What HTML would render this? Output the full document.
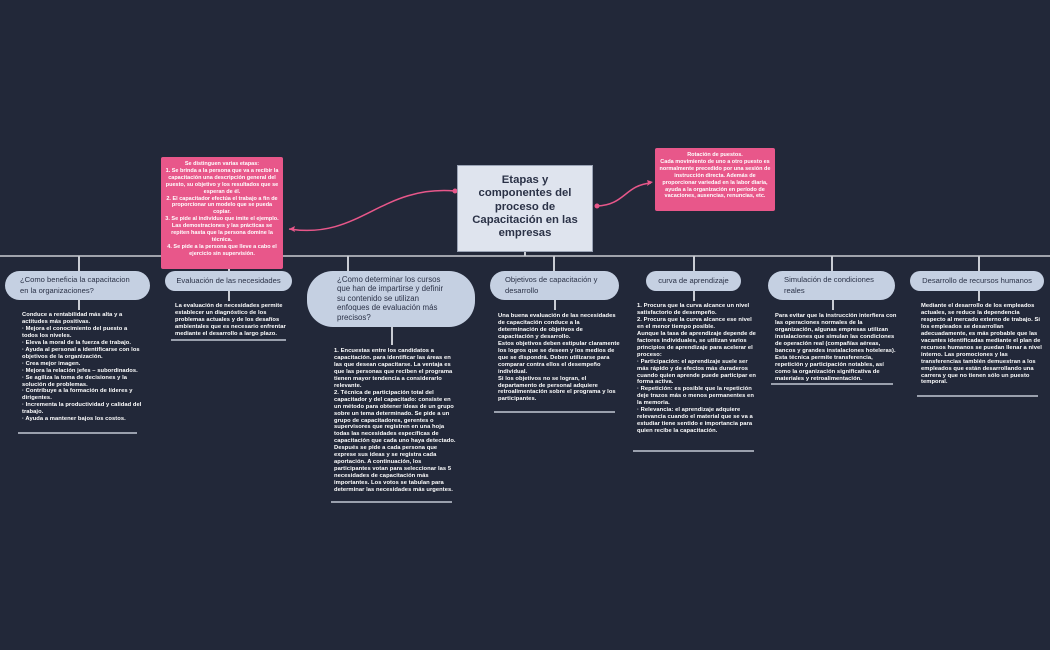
<!DOCTYPE html>
<html><head><meta charset="utf-8"><style>
body{margin:0;width:1050px;height:650px;background:#222839;position:relative;overflow:hidden;font-family:"Liberation Sans",sans-serif}
.p{position:absolute;background:#c5d0e2;color:#2b3247;border-radius:16px;font-size:7.6px;line-height:10.5px;box-sizing:border-box;padding:4px 12px}
.n{white-space:nowrap;text-align:center;padding:5px 4px}
.t{position:absolute;color:#fff;font-size:5.8px;line-height:6.95px;font-weight:bold;width:122px;letter-spacing:0.05px}
.u{position:absolute;height:1.5px;background:#9aa0ad}
.k{position:absolute;background:#e8578a;color:#fff;font-size:5.5px;line-height:6.9px;font-weight:bold;text-align:center;border-radius:2px;box-sizing:border-box;padding:4px 4px}
.v{position:absolute;width:1.5px;background:#c9ccd3}
</style></head><body>
<svg width="1050" height="650" style="position:absolute;left:0;top:0">
<line x1="0" y1="256" x2="1050" y2="256" stroke="#c9ccd3" stroke-width="1.5"/>
<path d="M455 191 C 380 185, 360 240, 289 229" stroke="#e8578a" stroke-width="1.5" fill="none"/>
<circle cx="455" cy="191" r="2.5" fill="#e8578a"/>
<path d="M289 229 l6 -3 l-1 3 l1 3z" fill="#e8578a"/>
<path d="M597 206 C 625 205, 625 185, 651 183" stroke="#e8578a" stroke-width="1.5" fill="none"/>
<circle cx="597" cy="206" r="2.5" fill="#e8578a"/>
<path d="M653 182 l-6 -2 l1 3 l-1 3z" fill="#e8578a"/>
</svg>
<div class="v" style="left:524px;top:252px;height:4px"></div>
<div class="v" style="left:78px;top:256px;height:15px"></div>
<div class="v" style="left:228px;top:256px;height:15px"></div>
<div class="v" style="left:347px;top:256px;height:15px"></div>
<div class="v" style="left:553px;top:256px;height:15px"></div>
<div class="v" style="left:693px;top:256px;height:15px"></div>
<div class="v" style="left:831px;top:256px;height:15px"></div>
<div class="v" style="left:978px;top:256px;height:15px"></div>
<div class="v" style="left:78px;top:300px;height:10px"></div>
<div class="v" style="left:228px;top:291px;height:10px"></div>
<div class="v" style="left:391px;top:327px;height:18px"></div>
<div class="v" style="left:554px;top:300px;height:10px"></div>
<div class="v" style="left:693px;top:291px;height:10px"></div>
<div class="v" style="left:832px;top:300px;height:10px"></div>
<div class="v" style="left:978px;top:291px;height:10px"></div>

<div style="position:absolute;left:457px;top:165px;width:136px;height:87px;background:#dfe4ee;border:1px solid #9aa3b5;box-sizing:border-box;color:#2b3247;font-weight:bold;font-size:11.3px;line-height:13.3px;text-align:center;padding-top:8px">Etapas y<br>componentes del<br>proceso de<br>Capacitación en las<br>empresas</div>

<div class="k" style="left:161px;top:157px;width:122px;height:112px">Se distinguen varias etapas:<br>1. Se brinda a la persona que va a recibir la capacitación una descripción general del puesto, su objetivo y los resultados que se esperan de él.<br>2. El capacitador efectúa el trabajo a fin de proporcionar un modelo que se pueda copiar.<br>3. Se pide al individuo que imite el ejemplo. Las demostraciones y las prácticas se repiten hasta que la persona domine la técnica.<br>4. Se pide a la persona que lleve a cabo el ejercicio sin supervisión.</div>
<div class="k" style="left:655px;top:148px;width:120px;height:63px">Rotación de puestos.<br>Cada movimiento de uno a otro puesto es normalmente precedido por una sesión de instrucción directa. Además de proporcionar variedad en la labor diaria, ayuda a la organización en período de vacaciones, ausencias, renuncias, etc.</div>

<div class="p" style="left:5px;top:271px;width:145px;height:29px;padding-left:15px">¿Como beneficia la capacitacion<br>en la organizaciones?</div>
<div class="p n" style="left:165px;top:271px;width:127px;height:20px">Evaluación de las necesidades</div>
<div class="p" style="left:307px;top:271px;width:168px;height:56px;border-radius:26px;padding:4px 20px 4px 30px;font-size:7.9px;line-height:9.4px">¿Como determinar los cursos<br>que han de impartirse y definir<br>su contenido se utilizan<br>enfoques de evaluación más<br>precisos?</div>
<div class="p" style="left:490px;top:271px;width:129px;height:29px;padding-left:15px">Objetivos de capacitación y<br>desarrollo</div>
<div class="p n" style="left:646px;top:271px;width:95px;height:20px">curva de aprendizaje</div>
<div class="p" style="left:768px;top:271px;width:127px;height:29px;padding-left:16px">Simulación de condiciones<br>reales</div>
<div class="p n" style="left:910px;top:271px;width:134px;height:20px">Desarrollo de recursos humanos</div>

<div class="t" style="left:22px;top:312px">Conduce a rentabilidad más alta y a actitudes más positivas.<br>· Mejora el conocimiento del puesto a todos los niveles.<br>· Eleva la moral de la fuerza de trabajo.<br>· Ayuda al personal a identificarse con los objetivos de la organización.<br>· Crea mejor imagen.<br>· Mejora la relación jefes – subordinados.<br>· Se agiliza la toma de decisiones y la solución de problemas.<br>· Contribuye a la formación de líderes y dirigentes.<br>· Incrementa la productividad y calidad del trabajo.<br>· Ayuda a mantener bajos los costos.</div>
<div class="u" style="left:18px;top:432px;width:119px"></div>
<div class="t" style="left:175px;top:303px">La evaluación de necesidades permite establecer un diagnóstico de los problemas actuales y de los desafíos ambientales que es necesario enfrentar mediante el desarrollo a largo plazo.</div>
<div class="u" style="left:171px;top:339px;width:115px"></div>
<div class="t" style="left:334px;top:348px">1. Encuestas entre los candidatos a capacitación. para identificar las áreas en las que desean capacitarse. La ventaja es que las personas que reciben el programa tienen mayor tendencia a considerarlo relevante.<br>2. Técnica de participación total del capacitador y del capacitado: consiste en un método para obtener ideas de un grupo sobre un tema determinado. Se pide a un grupo de capacitadores, gerentes o supervisores que registren en una hoja todas las necesidades específicas de capacitación que cada uno haya detectado. Después se pide a cada persona que exprese sus ideas y se registra cada aportación. A continuación, los participantes votan para seleccionar las 5 necesidades de capacitación más importantes. Los votos se tabulan para determinar las necesidades más urgentes.</div>
<div class="u" style="left:331px;top:501px;width:121px"></div>
<div class="t" style="left:498px;top:313px">Una buena evaluación de las necesidades de capacitación conduce a la determinación de objetivos de capacitación y desarrollo.<br>Estos objetivos deben estipular claramente los logros que se deseen y los medios de que se dispondrá. Deben utilizarse para comparar contra ellos el desempeño individual.<br>Si los objetivos no se logran, el departamento de personal adquiere retroalimentación sobre el programa y los participantes.</div>
<div class="u" style="left:494px;top:411px;width:121px"></div>
<div class="t" style="left:637px;top:303px">1. Procura que la curva alcance un nivel satisfactorio de desempeño.<br>2. Procura que la curva alcance ese nivel en el menor tiempo posible.<br>Aunque la tasa de aprendizaje depende de factores individuales, se utilizan varios principios de aprendizaje para acelerar el proceso:<br>· Participación: el aprendizaje suele ser más rápido y de efectos más duraderos cuando quien aprende puede participar en forma activa.<br>· Repetición: es posible que la repetición deje trazos más o menos permanentes en la memoria.<br>· Relevancia: el aprendizaje adquiere relevancia cuando el material que se va a estudiar tiene sentido e importancia para quien recibe la capacitación.</div>
<div class="u" style="left:633px;top:450px;width:121px"></div>
<div class="t" style="left:775px;top:313px">Para evitar que la instrucción interfiera con las operaciones normales de la organización, algunas empresas utilizan instalaciones que simulan las condiciones de operación real (compañías aéreas, bancos y grandes instalaciones hoteleras). Esta técnica permite transferencia, repetición y participación notables, así como la organización significativa de materiales y retroalimentación.</div>
<div class="u" style="left:771px;top:383px;width:122px"></div>
<div class="t" style="left:921px;top:303px">Mediante el desarrollo de los empleados actuales, se reduce la dependencia respecto al mercado externo de trabajo. Si los empleados se desarrollan adecuadamente, es más probable que las vacantes identificadas mediante el plan de recursos humanos se puedan llenar a nivel interno. Las promociones y las transferencias también demuestran a los empleados que están desarrollando una carrera y que no tienen sólo un puesto temporal.</div>
<div class="u" style="left:917px;top:395px;width:121px"></div>
</body></html>
